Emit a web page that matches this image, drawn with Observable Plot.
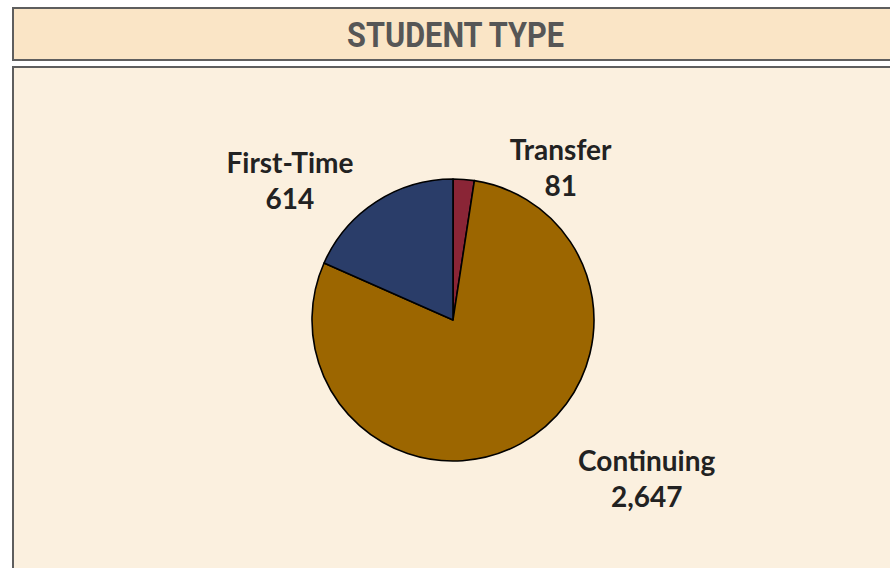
<!DOCTYPE html>
<html>
<head>
<meta charset="utf-8">
<script src="https://cdn.jsdelivr.net/npm/d3@7"></script>
<script src="https://cdn.jsdelivr.net/npm/@observablehq/plot@0.6"></script>
<style>
  html, body { margin: 0; padding: 0; background: #ffffff; width: 890px; height: 568px; overflow: hidden; position: relative; }
  #title {
    position: absolute; left: 12px; top: 7px; width: 890px; height: 50px;
    background: #fae5c6; border: 2px solid #5e5e5e;
  }
  #title svg { position: absolute; left: 0; top: 0; }
  #panel {
    position: absolute; left: 12px; top: 66px; width: 890px; height: 520px;
    background: #fbf0df; border: 2px solid #5e5e5e;
  }
  #chart { position: absolute; left: 0; top: 0; }
</style>
</head>
<body>
<div id="title">
  <svg width="890" height="50">
    <text x="441.5" y="38" text-anchor="middle" textLength="217" lengthAdjust="spacingAndGlyphs"
      font-family="Roboto, 'DejaVu Sans', sans-serif" font-weight="bold" font-size="34.5" fill="#565656">STUDENT TYPE</text>
  </svg>
</div>
<div id="panel"></div>
<div id="chart"></div>
<script>
// ---- data ----
const categories = ["Transfer", "Continuing", "First-Time"];
const counts = [81, 2647, 614];
const colors = ["#8a2536", "#9c6600", "#2a3d69"];

// ---- layout (label anchors in pie-radius units, not data) ----
const labelPos = [
  {x: 0.76, y: 1.09},
  {x: 1.37, y: -1.11},
  {x: -1.16, y: 1.0}
];

const rows = categories.map((c, i) => ({
  category: c,
  count: counts[i],
  color: colors[i],
  label: c + "\n" + d3.format(",")(counts[i]),
  lx: labelPos[i].x,
  ly: labelPos[i].y
}));

const pieGen = d3.pie().value(d => d.count).sort(null);
const arcs = pieGen(rows);

function pieMark(index, scales, values, dimensions) {
  const cx = scales.x(0), cy = scales.y(0);
  const r = Math.abs(scales.x(1) - scales.x(0));
  const arcGen = d3.arc().innerRadius(0).outerRadius(r);
  const g = d3.create("svg:g").attr("transform", `translate(${cx},${cy})`);
  g.selectAll("path").data(arcs).join("path")
    .attr("d", arcGen)
    .attr("fill", d => d.data.color)
    .attr("stroke", "#000")
    .attr("stroke-width", 1.6)
    .attr("stroke-linejoin", "round");
  return g.node();
}

const chart = Plot.plot({
  width: 890,
  height: 568,
  marginLeft: 312,
  marginRight: 296,
  marginTop: 179,
  marginBottom: 107,
  x: {domain: [-1, 1], axis: null},
  y: {domain: [-1, 1], axis: null},
  style: {background: "transparent", overflow: "visible"},
  marks: [
    pieMark,
    Plot.text(rows, {
      x: "lx", y: "ly", text: "label",
      fontSize: 28, fontWeight: "bold", fill: "#222222",
      fontFamily: "Lato, 'Open Sans', sans-serif",
      lineHeight: 1.29, textAnchor: "middle"
    })
  ]
});
document.getElementById("chart").appendChild(chart);
</script>
</body>
</html>
